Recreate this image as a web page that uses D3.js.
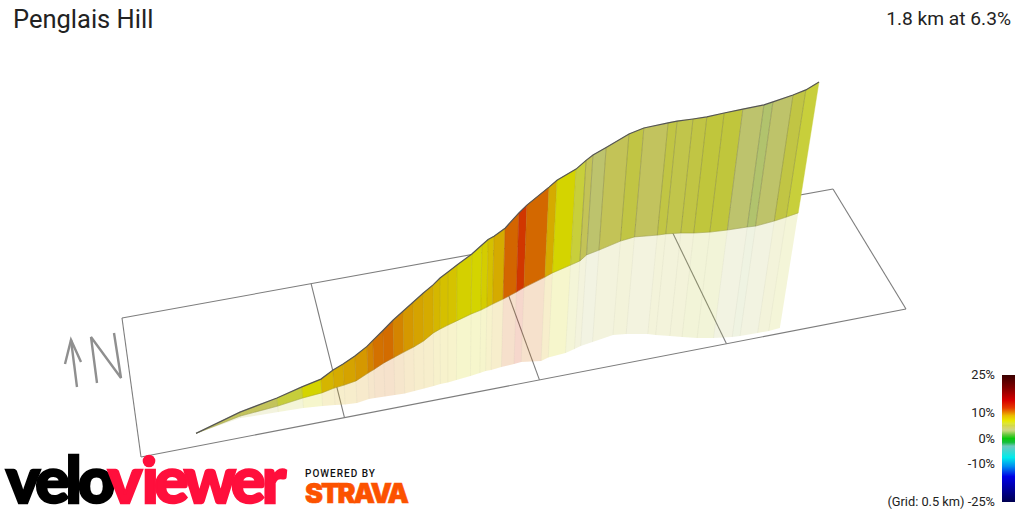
<!DOCTYPE html>
<html>
<head>
<meta charset="utf-8">
<title>Penglais Hill</title>
<script src="https://cdnjs.cloudflare.com/ajax/libs/d3/7.8.5/d3.min.js"></script>
<style>
  html, body { margin: 0; padding: 0; background: #fff; overflow: hidden; }
  svg { display: block; }
  text { font-family: Roboto, sans-serif; fill: #222; }
</style>
</head>
<body>
<svg id="chart" width="1024" height="512"></svg>
<script>
// Distance along the climb at each survey station (km)
const stationKm = [0, .127, .234, .306, .361, .396, .425, .459, .494, .511, .540, .569, .598, .627, .656,
  .685, .705, .728, .754, .797, .826, .844, .861, .893, .933, .956, 1.020, 1.043, 1.098, 1.127, 1.147,
  1.185, 1.251, 1.294, 1.364, 1.390, 1.436, 1.476, 1.526, 1.580, 1.641, 1.667, 1.725, 1.762, 1.800];

// Height of the road surface at each station (m on the drawing's vertical scale)
const roadHeight = [12.2, 19.3, 24, 27.7, 30.3, 33.3, 35.3, 38, 41.2, 43.2, 46.5, 49.9, 52.9, 55.9, 58.9,
  61.7, 64, 66, 68.3, 72, 75, 76.8, 77.9, 80.6, 85.7, 88.3, 94.3, 96.6, 100.3, 103.2, 105,
  107.5, 112, 114, 115.7, 116.3, 117, 117.7, 119, 120.3, 121.7, 122.7, 125, 126.7, 129.3];

// Foot of the coloured wall below the road
const wallFoot = [12.2, 18, 21.3, 24, 25.7, 27.3, 28.3, 29.7, 32.3, 33.5, 35.7, 37.5, 39.3, 41, 43,
  45.7, 47, 48.3, 49.7, 52, 53.3, 54.3, 55.3, 57, 59.3, 60.8, 64.3, 65.7, 68.3, 69.7, 71.7,
  73.3, 76.3, 77.7, 78.3, 78.7, 79, 79, 79.3, 80, 81, 81.3, 83, 84.3, 85.7];

// Lower limit of the pale reflection under the wall
const reflectionFoot = [12.2, 17.3, 19.3, 20.7, 21.3, 21.7, 21.8, 22.3, 23.7, 24, 24.5, 25, 25.5, 26.3, 27.2,
  28, 28.7, 29.2, 30, 31.3, 32.3, 33, 33.3, 34.3, 35.3, 36, 36.3, 37.5, 39, 40.3, 41.3,
  42.7, 45, 45.3, 45.3, 45, 44.7, 44.3, 44, 44, 44.3, 44.7, 45.7, 46.3, 47.3];

// Gradient of each stretch between consecutive stations (%)
const stretchGrade = [4.3, 4.4, 5.6, 7, 8.5, 9, 9.2, 9.5, 10, 10.5, 10.6, 10, 9.5, 9.2, 9,
  8.4, 8, 7.8, 7.2, 7, 7.3, 8, 9, 10.8, 12, 10.7, 9, 7, 5.7, 4.5, 3.8,
  4.5, 5, 4.3, 5, 4.8, 5, 5.2, 5.2, 3.8, 3, 3.9, 5, 5.7];

// Colour ramp of the gradient key
const rampGrades = [25, 20, 15, 12, 10.7, 9, 7, 5.7, 5.2, 4.4, 3.5, 3, 1.5, 0, -1.5, -3, -7.5, -11, -15, -25];
const rampColours = ["#3a0000", "#800000", "#d80000", "#e63c00", "#e87300", "#ebbc00", "#e9e900", "#dce441", "#d3da42",
  "#d7d764", "#cdd782", "#c3d778", "#64c83c", "#0ac80a", "#14be3c", "#6ec8be", "#00ebeb", "#008cf0", "#0000e6", "#000050"];

const keyTicks = [25, 10, 0, -10, -25];
const gridKm = [0, 0.5, 1, 1.5, 2];
const titleText = "Penglais Hill";
const summaryText = "1.8 km at 6.3%";

const svg = d3.select("#chart");

const x = d3.scaleLinear().domain([0, 1.8]).range([196, 819]);
const y = d3.scaleLinear().domain([0, 150]).range([470, 20]);
const gradeColour = d3.scaleLinear().domain(rampGrades).range(rampColours).clamp(true);

// Uprights converge on a distant vanishing point, so they lean with distance from it.
const vanishX = 447, vanishY = 2420;
const pointAt = (i, height) => {
  const topY = y(roadHeight[i]), py = y(height);
  return [vanishX + (x(stationKm[i]) - vanishX) * (vanishY - py) / (vanishY - topY), py];
};

// Ground grid, drawn in perspective
const perspective = t => t / (t + 0.92 * (1 - t));
const farEdge = d3.scaleLinear().domain([0, 1]).range([[122, 318], [833, 189]]);
const nearEdge = d3.scaleLinear().domain([0, 1]).range([[141, 457], [906, 309]]);
const gridT = km => perspective(km / d3.max(gridKm));
const gridLine = d3.line();
const grid = svg.append("g").attr("fill", "none").attr("stroke", "#7d7d7d").attr("stroke-width", 1.1);
grid.selectAll("path.cross").data(gridKm).join("path").attr("class", "cross")
  .attr("d", km => gridLine([[...farEdge(gridT(km))], [...nearEdge(gridT(km))]]));
grid.append("path").attr("d", gridLine([[...farEdge(0)], [...farEdge(1)]]));
grid.append("path").attr("d", gridLine([[...nearEdge(0)], [...nearEdge(1)]]));

// One quadrilateral per stretch
const stretches = stretchGrade.map((grade, i) => ({ grade, i, colour: d3.color(gradeColour(grade)).darker(0.27).formatRgb() }));
const quad = (i, upper, lower) => "M" + [pointAt(i, upper[i]), pointAt(i + 1, upper[i + 1]),
  pointAt(i + 1, lower[i + 1]), pointAt(i, lower[i])].join("L") + "Z";

svg.append("g").selectAll("path").data(stretches).join("path")
  .attr("d", d => quad(d.i, wallFoot, reflectionFoot))
  .attr("fill", d => d.colour).attr("fill-opacity", 0.2);

svg.append("g").selectAll("path").data(d3.range(1, stationKm.length - 1)).join("path")
  .attr("d", i => gridLine([pointAt(i, wallFoot[i]), pointAt(i, reflectionFoot[i])]))
  .attr("stroke", "#8a8a70").attr("stroke-opacity", 0.07).attr("fill", "none");

svg.append("g").selectAll("path").data(stretches).join("path")
  .attr("d", d => quad(d.i, roadHeight, wallFoot))
  .attr("fill", d => d.colour).attr("stroke", d => d.colour).attr("stroke-width", 0.4);

svg.append("g").selectAll("path").data(d3.range(1, stationKm.length - 1)).join("path")
  .attr("d", i => gridLine([pointAt(i, roadHeight[i]), pointAt(i, wallFoot[i])]))
  .attr("stroke", "#5a5a3c").attr("stroke-opacity", d => stationKm[d] > 1.1 ? 0.3 : 0.12).attr("fill", "none");

// Foot of the wall and the road line on top
svg.append("path")
  .attr("d", d3.line().x((_, i) => pointAt(i, wallFoot[i])[0]).y((_, i) => pointAt(i, wallFoot[i])[1])(stationKm))
  .attr("fill", "none").attr("stroke", "#77773c").attr("stroke-opacity", 0.4).attr("stroke-width", 0.7);
svg.append("path")
  .attr("d", d3.line().x(d => x(d)).y((_, i) => y(roadHeight[i]))(stationKm))
  .attr("fill", "none").attr("stroke", "#555").attr("stroke-width", 1.2);

// North arrow
const compass = svg.append("g").attr("fill", "none").attr("stroke", "#8f8f8f").attr("stroke-width", 2.4);
compass.append("path").attr("d", gridLine([[77, 387], [71, 340]]));
compass.append("path").attr("d", gridLine([[65, 364], [71, 340], [81, 362]]));
compass.append("path").attr("d", gridLine([[97, 383], [91, 337], [121, 378], [114, 333]]));

// Headings
svg.append("text").attr("x", 13).attr("y", 28).attr("font-size", 25.5).text(titleText);
svg.append("text").attr("x", 1011).attr("y", 25).attr("font-size", 19.2).attr("text-anchor", "end").text(summaryText);

// Gradient key
const keyY = d3.scaleLinear().domain([25, -25]).range([375, 502]);
const ramp = svg.append("defs").append("linearGradient").attr("id", "gradeRamp")
  .attr("x1", 0).attr("x2", 0).attr("y1", 0).attr("y2", 1);
ramp.selectAll("stop").data(rampGrades).join("stop")
  .attr("offset", d => (25 - d) / 50).attr("stop-color", d => gradeColour(d));
svg.append("rect").attr("x", 1002).attr("y", keyY(25)).attr("width", 13)
  .attr("height", keyY(-25) - keyY(25)).attr("fill", "url(#gradeRamp)");
svg.append("g").selectAll("text").data(keyTicks).join("text")
  .attr("x", 995).attr("y", d => keyY(d) + 4).attr("font-size", 12.8).attr("text-anchor", "end")
  .attr("fill", "#333")
  .text(d => d === -25 ? "(Grid: 0.5 km) -25%" : d + "%");

// Wordmarks: tracking is tightened until each word spans the wanted width
const wordmark = (text, left, width, size, base, colour, stroke, family, weight) => {
  const node = svg.append("text").attr("x", left).attr("y", base)
    .style("font-family", family).style("font-weight", weight).style("fill", colour)
    .attr("stroke", colour).attr("stroke-width", stroke).attr("font-size", size).text(text);
  const natural = node.node().getComputedTextLength();
  return node.style("letter-spacing", (width - natural) / text.length + "px");
};
svg.select("defs").append("clipPath").attr("id", "belowDot")
  .append("rect").attr("x", 100).attr("y", 468).attr("width", 200).attr("height", 44);
wordmark("velo", 6, 105, 64, 502.5, "#000", 2.4, "Lato, sans-serif", 900);
wordmark("viewer", 108, 175, 64, 502.5, "#ff0f3c", 2.4, "Lato, sans-serif", 900)
  .attr("dx", "0 3 -1 -1 -1 0").attr("clip-path", "url(#belowDot)");
svg.append("circle").attr("cx", 149).attr("cy", 461).attr("r", 6.3).attr("fill", "#ff0f3c");
wordmark("POWERED BY", 305, 71, 10, 477, "#111", 0, "Roboto, sans-serif", 500);
wordmark("STRAVA", 305, 102, 27, 503, "#fc5200", 0.6, "Inter, sans-serif", 900);
</script>
</body>
</html>
